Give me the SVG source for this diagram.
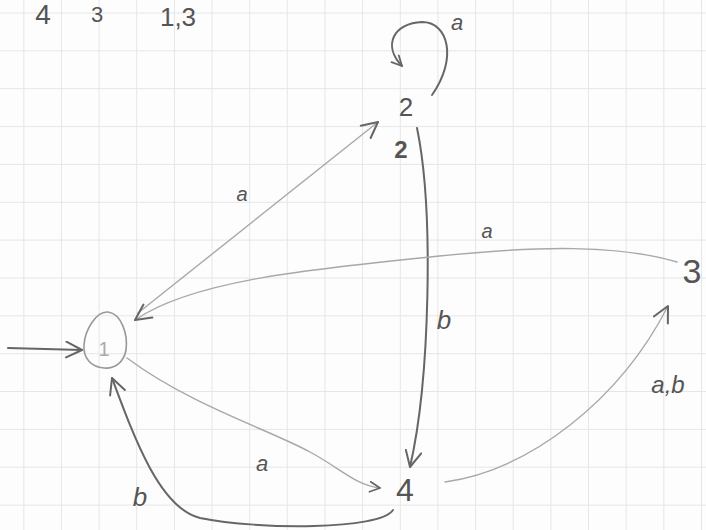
<svg xmlns="http://www.w3.org/2000/svg" width="706" height="530" viewBox="0 0 706 530">
  <style>
    .grid { stroke: #e6e6e6; stroke-width: 1; fill: none; }
    .edge { fill: none; stroke: #8a8a8a; stroke-width: 1.6; stroke-linecap: round; }
    .dark { stroke: #666; stroke-width: 2; }
    .light { stroke: #a8a8a8; stroke-width: 1.4; }
    .lbl { font-family: "Liberation Sans", "DejaVu Sans", sans-serif; font-style: italic; fill: #555; text-anchor: middle; dominant-baseline: central; }
    .node { font-family: "Liberation Sans", "DejaVu Sans", sans-serif; fill: #555; text-anchor: middle; dominant-baseline: central; }
  </style>
  <defs>
    <marker id="arr" viewBox="0 0 12 12" refX="11" refY="6" markerWidth="12" markerHeight="12" markerUnits="userSpaceOnUse" orient="auto">
      <path d="M1,1 L11,6 L1,11" fill="none" stroke="#666" stroke-width="1.8" stroke-linecap="round" stroke-linejoin="round"/>
    </marker>
    <marker id="arrBig" viewBox="0 0 16 16" refX="15" refY="8" markerWidth="18" markerHeight="18" markerUnits="userSpaceOnUse" orient="auto">
      <path d="M1,1 L15,8 L1,15" fill="none" stroke="#666" stroke-width="1.8" stroke-linecap="round" stroke-linejoin="round"/>
    </marker>
  </defs>
  <rect width="706" height="530" fill="#fdfdfd"/>
  <path class="grid" d="M23.8,0V530 M61.4,0V530 M99.1,0V530 M136.7,0V530 M174.4,0V530 M212,0V530 M249.7,0V530 M287.3,0V530 M325,0V530 M362.6,0V530 M400.3,0V530 M437.9,0V530 M475.6,0V530 M513.2,0V530 M550.9,0V530 M588.5,0V530 M626.2,0V530 M663.8,0V530 M701.5,0V530 M0,13H706 M0,50.9H706 M0,88.7H706 M0,126.6H706 M0,164.4H706 M0,202.3H706 M0,240.1H706 M0,278H706 M0,315.8H706 M0,353.7H706 M0,391.5H706 M0,429.4H706 M0,467.2H706 M0,505.1H706"/>

  <g id="header">
    <text class="node" x="43" y="14" font-size="28">4</text>
    <text class="node" x="97" y="14" font-size="22">3</text>
    <text class="node" x="178" y="17" font-size="26">1,3</text>
  </g>

  <g id="connectors">
    <path id="e-init" class="edge dark" d="M8,348 L82,350" marker-end="url(#arrBig)"/>
    <path id="e-1-2" class="edge light" d="M138,313 L378,122" marker-end="url(#arrBig)"/>
    <path id="e-2-2" class="edge dark" d="M432,95 C458,58 448,22 422,22 C394,23 382,45 402,66" marker-end="url(#arr)"/>
    <path id="e-2-4" class="edge dark" d="M417,128 C434,210 430,380 410,467" marker-end="url(#arrBig)"/>
    <path id="e-3-1" class="edge light" d="M677,262 C620,245 540,245 430,257 C300,270 190,282 135,320" marker-end="url(#arrBig)"/>
    <path id="e-1-4" class="edge light" d="M127,358 C190,405 270,430 310,452 C340,468 355,485 380,488" marker-end="url(#arr)"/>
    <path id="e-4-1" class="edge dark" d="M393,510 C380,530 260,530 200,518 C160,508 135,440 112,378" marker-end="url(#arrBig)"/>
    <path id="e-4-3" class="edge light" d="M445,482 C530,470 620,400 668,306" marker-end="url(#arrBig)"/>
    <text class="lbl" x="457" y="22" font-size="22">a</text>
    <text class="lbl" x="242" y="194" font-size="20">a</text>
    <text class="lbl" x="444" y="320" font-size="26">b</text>
    <text class="lbl" x="487" y="231" font-size="20">a</text>
    <text class="lbl" x="262" y="463" font-size="22">a</text>
    <text class="lbl" x="140" y="497" font-size="26">b</text>
    <text class="lbl" x="668" y="384" font-size="24">a,b</text>
  </g>

  <g id="node-1">
    <path d="M108,312 C122,314 128,335 126,350 C124,362 115,369 104,368 C91,367 83,358 84,345 C85,330 96,311 108,312 Z" fill="none" stroke="#999" stroke-width="1.6"/>
    <text class="node" x="104" y="349" font-size="20" style="fill:#aaa">1</text>
  </g>
  <g id="node-2">
    <text class="node" x="406" y="107" font-size="26">2</text>
    <text class="node" x="401" y="149" font-size="24" font-weight="bold">2</text>
  </g>
  <g id="node-3">
    <text class="node" x="692" y="271" font-size="34">3</text>
  </g>
  <g id="node-4">
    <text class="node" x="405" y="490" font-size="32">4</text>
  </g>
</svg>
